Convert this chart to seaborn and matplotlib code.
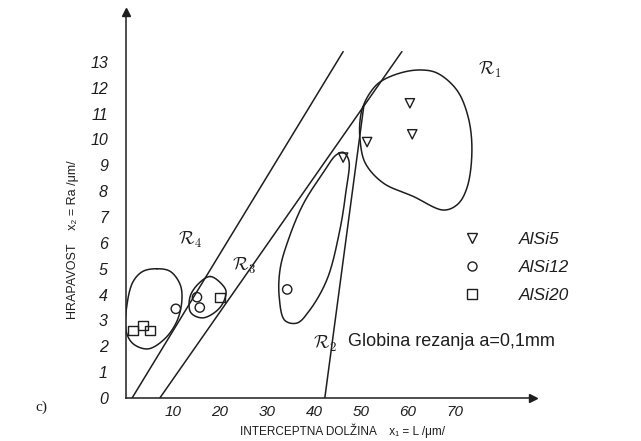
import numpy as np
import pandas as pd
import matplotlib
matplotlib.use("Agg")
import matplotlib.pyplot as plt
from matplotlib.lines import Line2D
import seaborn as sns

sns.set_theme(style="white")
plt.rcParams['font.family'] = ['Liberation Sans', 'DejaVu Sans']
plt.rcParams['mathtext.fontset'] = 'cm'

# ---- data ----
alloys = ["AlSi5"] * 4 + ["AlSi12"] * 4 + ["AlSi20"] * 4
L_vals = [60.4, 60.9, 51.3, 46.2, 10.6, 15.1, 15.7, 34.3, 20.0, 1.5, 3.6, 5.1]
Ra_vals = [11.4, 10.2, 9.9, 9.3, 3.45, 3.9, 3.5, 4.2, 3.9, 2.6, 2.8, 2.6]

x_ticks = [10, 20, 30, 40, 50, 60, 70]
y_ticks = list(range(0, 14))

# boundary lines (endpoints)
line_x = [[1.3, 46.2], [7.2, 58.7], [42.3, 50.6]]
line_y = [[0.0, 13.4], [0.0, 13.4], [0.0, 11.3]]

# region outlines
R1_x = [50.4, 51.9, 54.0, 58.3, 62.6, 66.2, 70.4, 72.8, 73.6, 72.6, 70.6, 67.6, 61.1, 54.7, 50.9, 49.8, 49.8]
R1_y = [11.26, 11.80, 12.22, 12.57, 12.69, 12.57, 11.91, 10.87, 9.59, 8.16, 7.50, 7.27, 7.80, 8.32, 9.09, 9.98, 10.75]
R2_x = [46.2, 47.4, 46.8, 45.5, 42.8, 39.1, 36.4, 33.8, 32.6, 32.8, 34.5, 37.7, 41.9, 44.7]
R2_y = [9.5, 9.2, 8.0, 6.5, 4.6, 3.4, 2.9, 3.0, 3.9, 5.0, 6.1, 7.5, 8.7, 9.4]
R3_x = [17.9, 20.4, 21.3, 20.0, 16.4, 13.8, 13.6, 15.3]
R3_y = [4.7, 4.4, 4.1, 3.5, 3.1, 3.3, 3.9, 4.4]
R4_x = [6.6, 9.4, 11.5, 11.9, 10.9, 8.3, 4.7, 1.5, 0.0, 0.2, 1.5, 3.6]
R4_y = [5.0, 4.9, 4.4, 3.8, 3.0, 2.3, 1.9, 2.1, 2.6, 3.6, 4.5, 4.9]
region_labels = [r"$\mathcal{R}_1$", r"$\mathcal{R}_2$", r"$\mathcal{R}_3$", r"$\mathcal{R}_4$"]
region_label_x = [74.9, 39.8, 22.6, 11.1]
region_label_y = [12.7, 2.1, 5.1, 6.1]

df = pd.DataFrame({"L": L_vals, "Ra": Ra_vals, "alloy": alloys})
markers = {"AlSi5": "v", "AlSi12": "o", "AlSi20": "s"}
ink = "#1e1e1e"
SX, SY = 4.7, 25.85  # px per data unit, for smooth curve spacing


def closed_spline(xs, ys, n=30, alpha=0.5):
    p = np.column_stack([np.asarray(xs) * SX, np.asarray(ys) * SY])
    m = len(p)
    out = []
    for i in range(m):
        P0, P1, P2, P3 = p[(i - 1) % m], p[i], p[(i + 1) % m], p[(i + 2) % m]
        t0 = 0.0
        t1 = t0 + np.linalg.norm(P1 - P0) ** alpha
        t2 = t1 + np.linalg.norm(P2 - P1) ** alpha
        t3 = t2 + np.linalg.norm(P3 - P2) ** alpha
        t = np.linspace(t1, t2, n, endpoint=False)[:, None]
        A1 = (t1 - t) / (t1 - t0) * P0 + (t - t0) / (t1 - t0) * P1
        A2 = (t2 - t) / (t2 - t1) * P1 + (t - t1) / (t2 - t1) * P2
        A3 = (t3 - t) / (t3 - t2) * P2 + (t - t2) / (t3 - t2) * P3
        B1 = (t2 - t) / (t2 - t0) * A1 + (t - t0) / (t2 - t0) * A2
        B2 = (t3 - t) / (t3 - t1) * A2 + (t - t1) / (t3 - t1) * A3
        C = (t2 - t) / (t2 - t1) * B1 + (t - t1) / (t2 - t1) * B2
        out.append(C)
    out = np.vstack(out + [out[0][:1]])
    return out[:, 0] / SX, out[:, 1] / SY


fig = plt.figure(figsize=(6.41, 4.41), dpi=100)
ax = fig.add_axes([126 / 641, 43 / 441, 407 / 641, 386 / 441])
ax.set_xlim(0, 407 / SX)
ax.set_ylim(0, 386 / SY)

for lx, ly in zip(line_x, line_y):
    sns.lineplot(x=lx, y=ly, ax=ax, color=ink, lw=1.1, sort=False, estimator=None)

for rx, ry in [(R1_x, R1_y), (R2_x, R2_y), (R3_x, R3_y), (R4_x, R4_y)]:
    sx, sy = closed_spline(rx, ry)
    ax.plot(sx, sy, color=ink, lw=1.1)

for lab, tx, ty in zip(region_labels, region_label_x, region_label_y):
    ax.text(tx, ty, lab, fontsize=13, color=ink, ha="left", va="center")

sns.scatterplot(data=df, x="L", y="Ra", style="alloy", markers=markers,
                fc="none", ec=ink, linewidth=1.0, s=45, legend=False, ax=ax, zorder=5)

handles = [Line2D([], [], ls="none", marker=markers[a], mfc="none", mec=ink, ms=6.5, mew=1.0)
           for a in ["AlSi5", "AlSi12", "AlSi20"]]
leg = ax.legend(handles, ["AlSi5", "AlSi12", "AlSi20"], loc="upper left",
                bbox_to_anchor=(0.783, 0.47), frameon=False,
                prop={"style": "italic", "size": 12.5}, labelspacing=0.72,
                handletextpad=2.0, handlelength=1.4)
for t in leg.get_texts():
    t.set_color(ink)

ax.text(47.2, 2.17, "Globina rezanja a=0,1mm", fontsize=13, color=ink, ha="left", va="center")

# axes styling
sns.despine(ax=ax)
for s in ["left", "bottom"]:
    ax.spines[s].set_color(ink)
    ax.spines[s].set_linewidth(1.1)
ax.plot(1, 0, ">", color=ink, ms=6, transform=ax.transAxes, clip_on=False)
ax.plot(0, 1, "^", color=ink, ms=6, transform=ax.transAxes, clip_on=False)

ax.set_xticks(x_ticks)
ax.set_xticklabels([str(v) for v in x_ticks], fontstyle="italic", fontsize=11, color=ink)
ax.set_yticks(y_ticks)
ax.set_yticklabels([str(v) for v in y_ticks], fontstyle="italic", fontsize=11.5, color=ink)
ax.tick_params(axis="both", length=0)
ax.tick_params(axis="x", pad=5)
ax.tick_params(axis="y", pad=13)
ax.grid(False)

ax.set_xlabel("INTERCEPTNA DOLŽINA    x\u2081 = L /\u03bcm/", fontsize=8.5, color=ink)
ax.xaxis.set_label_coords(0.533, -0.066)
ax.set_ylabel("HRAPAVOST    x\u2082 = Ra /\u03bcm/", fontsize=9, color=ink)
ax.yaxis.set_label_coords(-0.115, 0.41)

fig.text(35 / 641, 1 - 407 / 441, "c)", fontsize=11, family="Liberation Serif", color=ink,
         ha="left", va="center")

fig.savefig("out.png", dpi=100, facecolor="white")
